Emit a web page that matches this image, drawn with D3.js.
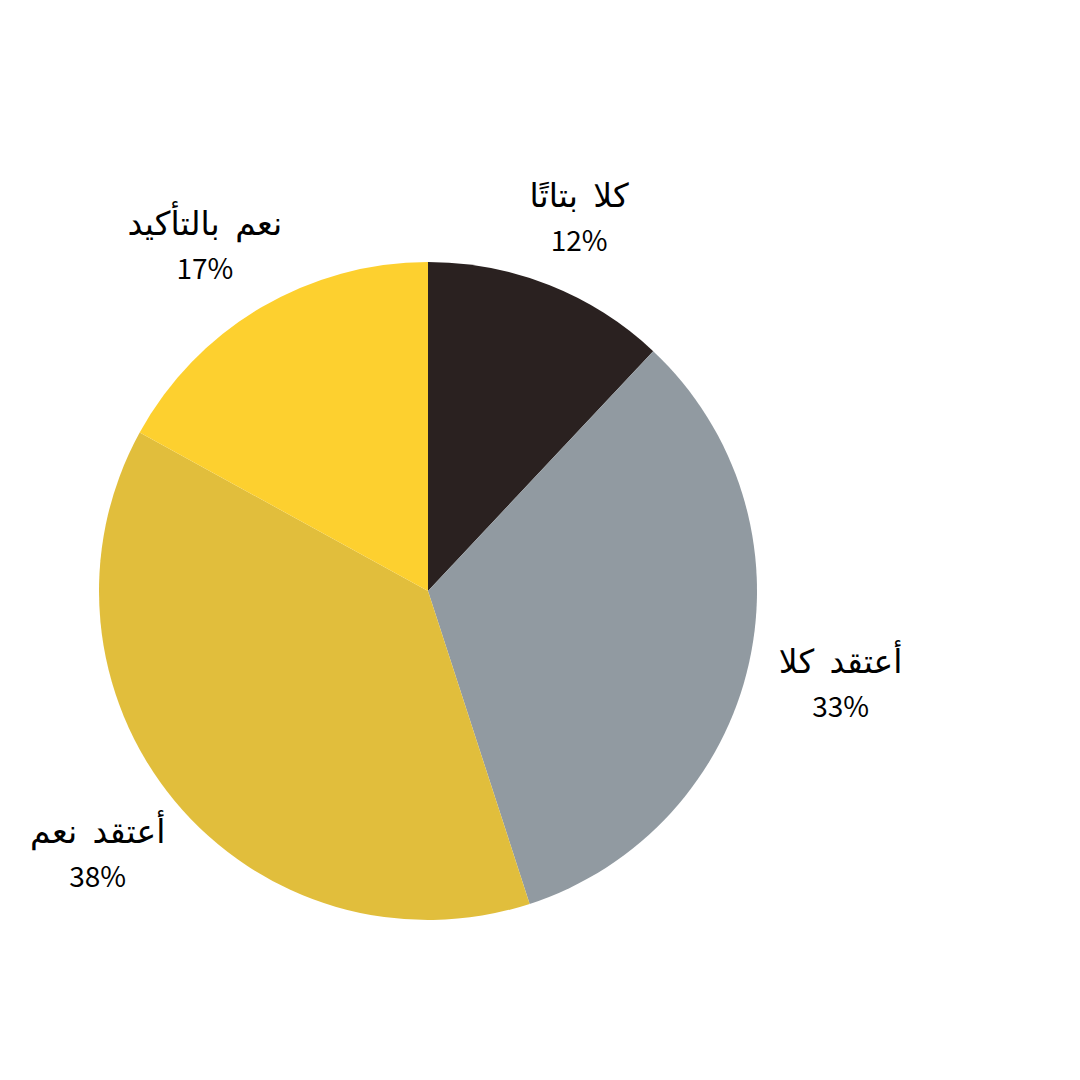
<!DOCTYPE html>
<html>
<head>
<meta charset="utf-8">
<script src="https://cdn.jsdelivr.net/npm/d3@7"></script>
<style>
  body { margin: 0; background: #fff; }
  text { font-family: "Noto Sans CJK SC", "DejaVu Sans", sans-serif; fill: #000; }
</style>
</head>
<body>
<svg width="1080" height="1080"></svg>
<script>
// answers, clockwise from 12 o'clock
var labels = ["كلا بتاتًا", "أعتقد كلا", "أعتقد نعم", "نعم بالتأكيد"];
var values = [12, 33, 38, 17];
var colors = ["#2a2120", "#919aa1", "#e1be3c", "#fdd02f"];

var svg = d3.select("svg"),
    cx = 428, cy = 591, r = 329;

var pie = d3.pie().sort(null).value(function(d) { return d; });
var arc = d3.arc().innerRadius(0).outerRadius(r);
// anchor point for each label, just outside the pie
var labelArc = d3.arc().innerRadius(r + 32).outerRadius(r + 32);

var arcs = pie(values);

var g = svg.append("g").attr("transform", "translate(" + cx + "," + cy + ")");

g.selectAll("path")
  .data(arcs)
  .enter()
  .append("path")
  .attr("d", arc)
  .attr("fill", function(d, i) { return colors[i]; });

var lab = g.selectAll("g.lab")
  .data(arcs)
  .enter()
  .append("g")
  .attr("class", "lab");

lab.append("text")
  .attr("text-anchor", "middle")
  .attr("direction", "rtl")
  .attr("y", -14)
  .attr("font-size", 33)
  .attr("word-spacing", 8)
  .text(function(d, i) { return labels[i]; });

lab.append("text")
  .attr("text-anchor", "middle")
  .attr("y", 30)
  .attr("font-size", 28)
  .text(function(d) { return d.value + "%"; });

// push each label block outward so its edge, not its centre, sits at the anchor
lab.attr("transform", function(d) {
  var c = labelArc.centroid(d),
      b = this.getBBox(),
      a = (d.startAngle + d.endAngle) / 2,
      x = c[0] + Math.sin(a) * b.width / 2 - (b.x + b.width / 2),
      y = c[1] - Math.cos(a) * b.height / 2 - (b.y + b.height / 2);
  return "translate(" + x + "," + y + ")";
});
</script>
</body>
</html>
